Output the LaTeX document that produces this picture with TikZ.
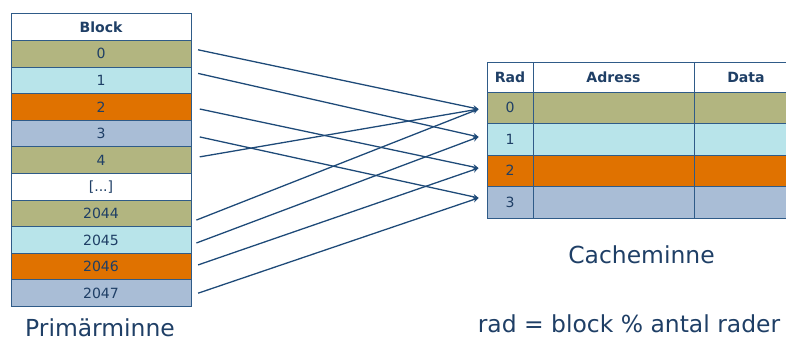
\documentclass[tikz,border=0pt]{standalone}
\usepackage{fontspec}
\setmainfont{DejaVu Sans}

\definecolor{edge}{HTML}{2F5B88}
\definecolor{ink}{HTML}{1F3F66}
\definecolor{olive}{HTML}{B2B580}
\definecolor{sky}{HTML}{B8E4EA}
\definecolor{rust}{HTML}{E07200}
\definecolor{steel}{HTML}{A9BDD6}
\definecolor{wire}{HTML}{1E4A78}

\begin{document}
\begin{tikzpicture}[
		x=0.03cm,
		y=-0.03cm,
		>=stealth,
		cell/.style={draw=edge,line width=0.7pt,text=ink,inner sep=0pt,font=\fontsize{12}{14}\selectfont},
		blk/.style={cell,minimum width=5.4cm,minimum height=0.798cm},
		head/.style={fill=white,font=\fontsize{12}{14}\selectfont\bfseries},
		row/.style={cell,minimum height=0.945cm},
		radcol/.style={row,minimum width=1.38cm},
		adrcol/.style={row,minimum width=4.83cm},
		datcol/.style={row,minimum width=3.12cm},
		map/.style={->,wire,line width=1.1pt},
		caption/.style={text=ink,anchor=base,inner sep=0pt,font=\fontsize{20}{24}\selectfont}
	]
		\useasboundingbox (0,0) rectangle (786,340);

		% Primary memory
		\node[blk,head] (bh) at (101,27.2) {Block};
		\node[blk,fill=olive] (b0) at (101,53.8) {0};
		\node[blk,fill=sky] (b1) at (101,80.4) {1};
		\node[blk,fill=rust] (b2) at (101,107) {2};
		\node[blk,fill=steel] (b3) at (101,133.6) {3};
		\node[blk,fill=olive] (b4) at (101,160.2) {4};
		\node[blk,fill=white] (bdots) at (101,186.8) {[...]};
		\node[blk,fill=olive] (b2044) at (101,213.4) {2044};
		\node[blk,fill=sky] (b2045) at (101,240) {2045};
		\node[blk,fill=rust] (b2046) at (101,266.6) {2046};
		\node[blk,fill=steel] (b2047) at (101,293.2) {2047};

		% Cache
		\node[radcol,head,minimum height=0.9cm] (rh) at (510,77) {Rad};
		\node[adrcol,head,minimum height=0.9cm] (ah) at (613.5,77) {Adress};
		\node[datcol,head,minimum height=0.9cm] (dh) at (746,77) {Data};
		\node[radcol,fill=olive] (r0) at (510,107.75) {0};
		\node[adrcol,fill=olive] (a0) at (613.5,107.75) {};
		\node[datcol,fill=olive] (d0) at (746,107.75) {};
		\node[radcol,fill=sky] (r1) at (510,139.25) {1};
		\node[adrcol,fill=sky] (a1) at (613.5,139.25) {};
		\node[datcol,fill=sky] (d1) at (746,139.25) {};
		\node[radcol,fill=rust] (r2) at (510,170.75) {2};
		\node[adrcol,fill=rust] (a2) at (613.5,170.75) {};
		\node[datcol,fill=rust] (d2) at (746,170.75) {};
		\node[radcol,fill=steel] (r3) at (510,202.25) {3};
		\node[adrcol,fill=steel] (a3) at (613.5,202.25) {};
		\node[datcol,fill=steel] (d3) at (746,202.25) {};

		% Mapping
		\draw[map] ([xshift=2mm,yshift=1.2mm]b0.east) -- ([xshift=-2.4mm,yshift=-0.4mm]r0.west);
		\draw[map] ([xshift=2mm,yshift=2.1mm]b1.east) -- ([xshift=-2.4mm,yshift=0.7mm]r1.west);
		\draw[map] ([xshift=2.5mm,yshift=-0.6mm]b2.east) -- ([xshift=-2.4mm,yshift=0.8mm]r2.west);
		\draw[map] ([xshift=2.5mm,yshift=-1mm]b3.east) -- ([xshift=-2.4mm,yshift=1.3mm]r3.west);
		\draw[map] ([xshift=2.5mm,yshift=1mm]b4.east) -- ([xshift=-2.4mm,yshift=-0.4mm]r0.west);
		\draw[map] ([xshift=1.5mm,yshift=-2mm]b2044.east) -- ([xshift=-2.4mm,yshift=-0.4mm]r0.west);
		\draw[map] ([xshift=1.5mm,yshift=-0.9mm]b2045.east) -- ([xshift=-2.4mm,yshift=0.7mm]r1.west);
		\draw[map] ([xshift=2mm,yshift=0.5mm]b2046.east) -- ([xshift=-2.4mm,yshift=0.8mm]r2.west);
		\draw[map] ([xshift=2mm]b2047.east) -- ([xshift=-2.4mm,yshift=1.3mm]r3.west);

		% Captions
		\node[caption] (pm) at (100,336) {Primärminne};
		\node[caption] (cm) at (641.5,263) {Cacheminne};
		\node[caption] (eq) at (629,332) {rad = block \% antal rader};
	\end{tikzpicture}
\end{document}
